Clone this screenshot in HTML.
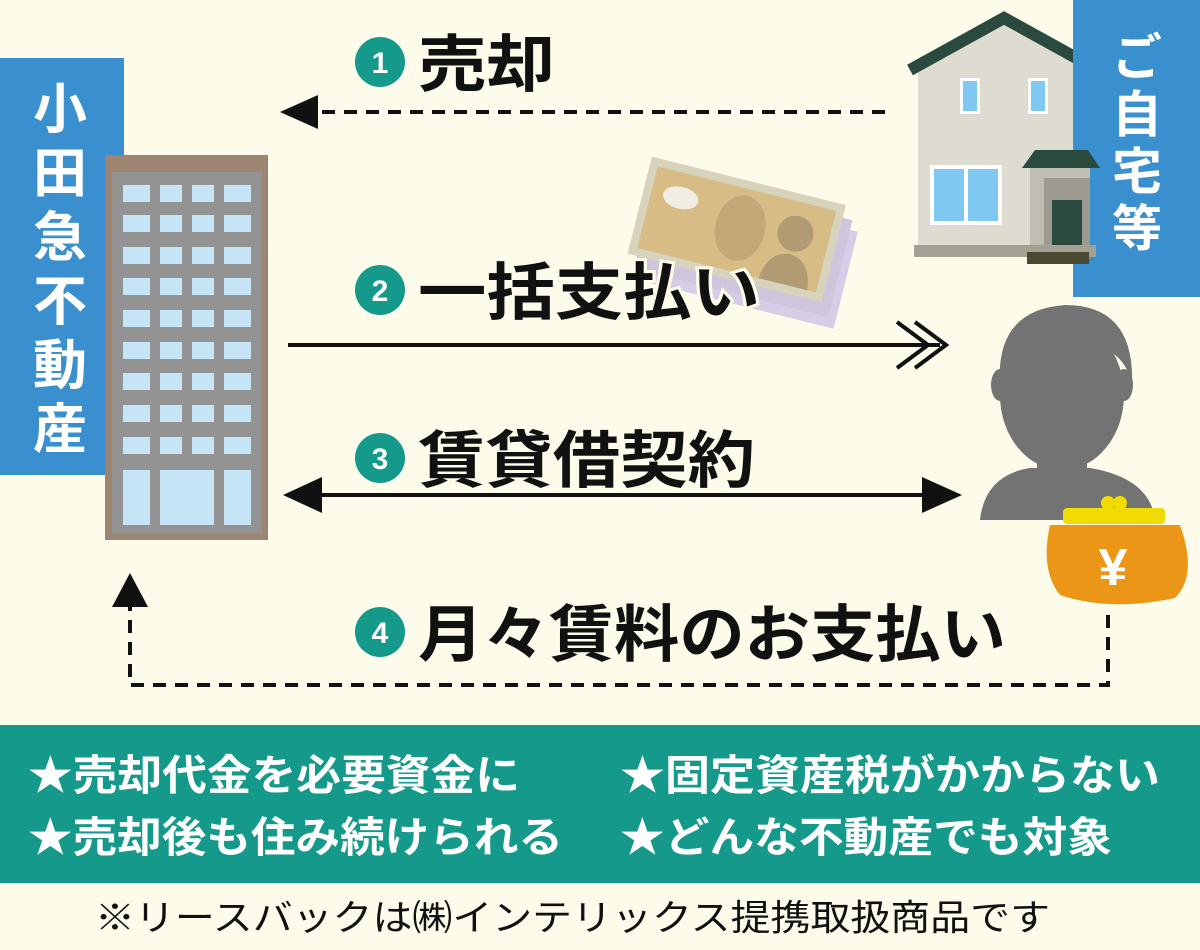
<!DOCTYPE html>
<html><head><meta charset="utf-8"><style>
html,body{margin:0;padding:0;background:#fdfbe9;}
svg{display:block;font-family:"Liberation Sans","Noto Sans CJK JP",sans-serif;}
</style></head><body>
<svg width="1200" height="950" viewBox="0 0 1200 950" xmlns="http://www.w3.org/2000/svg">
<defs>
<g id="row">
<rect x="123" y="0" width="27" height="17"/><rect x="160" y="0" width="22" height="17"/><rect x="192" y="0" width="22" height="17"/><rect x="224" y="0" width="27" height="17"/>
</g>
</defs>
<rect width="1200" height="950" fill="#fdfbe9"/>
<!-- left blue box -->
<rect x="0" y="58" width="124" height="417" fill="#3a8fcf"/>
<g fill="#fff" font-size="54" font-weight="bold" text-anchor="middle">
<text x="60" y="128">小</text><text x="60" y="192">田</text><text x="60" y="256">急</text>
<text x="60" y="320">不</text><text x="60" y="384">動</text><text x="60" y="448">産</text>
</g>
<!-- building -->
<rect x="105" y="155" width="163" height="385" fill="#9c8571"/>
<rect x="112" y="172" width="150" height="362" fill="#939393"/>
<g fill="#c5e4f5">
<use href="#row" y="185"/><use href="#row" y="215"/><use href="#row" y="247"/><use href="#row" y="278"/>
<use href="#row" y="310"/><use href="#row" y="342"/><use href="#row" y="373"/><use href="#row" y="405"/><use href="#row" y="437"/>
<rect x="123" y="470" width="27" height="55"/><rect x="160" y="470" width="54" height="55"/><rect x="224" y="470" width="27" height="55"/>
</g>
<!-- house -->
<polygon points="918,68 1004,22 1090,68 1090,250 918,250" fill="#dedbd0"/>
<polyline points="910,70 1004,18 1098,70" fill="none" stroke="#2b4a3f" stroke-width="12"/>
<!-- right blue box -->
<rect x="1073" y="0" width="127" height="297" fill="#3a8fcf"/>
<g fill="#fff" font-size="50" font-weight="bold" text-anchor="middle">
<text x="1137" y="75">ご</text><text x="1137" y="132">自</text><text x="1137" y="189">宅</text><text x="1137" y="246">等</text>
</g>
<rect x="960" y="78" width="20" height="36" fill="#fff"/><rect x="963" y="81" width="14" height="30" fill="#7ec8f2"/>
<rect x="1028" y="78" width="20" height="36" fill="#fff"/><rect x="1031" y="81" width="14" height="30" fill="#7ec8f2"/>
<rect x="930" y="165" width="72" height="60" fill="#fff"/><rect x="934" y="169" width="30" height="52" fill="#7ec8f2"/><rect x="968" y="169" width="30" height="52" fill="#7ec8f2"/>
<rect x="1030" y="168" width="60" height="85" fill="#c0bdb2"/>
<rect x="1044" y="178" width="46" height="75" fill="#9d9a90"/>
<rect x="1052" y="200" width="30" height="53" fill="#2b4a3f"/>
<polygon points="1022,168 1035,150 1088,150 1100,168" fill="#2b4a3f"/>
<rect x="914" y="245" width="182" height="12" fill="#a3a194"/>
<rect x="1027" y="252" width="62" height="12" fill="#4a4a32"/>
<!-- money -->
<g transform="rotate(14 745 250)">
<rect x="650" y="205" width="200" height="100" fill="#d6cde6"/>
<rect x="642" y="195" width="200" height="100" fill="#cfc5dd"/>
<rect x="632" y="182" width="200" height="100" fill="#d8d3bd"/>
<rect x="640" y="190" width="184" height="84" fill="#d8bc86"/>
<ellipse cx="670" cy="215" rx="18" ry="11" fill="#f2ede2"/>
<ellipse cx="735" cy="230" rx="25" ry="33" fill="#c5a878"/>
<circle cx="790" cy="222" r="18" fill="#b19b72"/>
<path d="M765 274 Q768 245 790 243 Q812 245 815 274Z" fill="#b19b72"/>
</g>
<!-- person -->
<g fill="#737373">
<ellipse cx="1062" cy="395" rx="62" ry="75"/>
<path d="M1000 385 Q995 310 1065 305 Q1135 305 1132 385 Q1125 350 1090 345 Q1040 345 1000 385Z"/>
<rect x="1037" y="440" width="50" height="40"/>
<path d="M980 520 Q985 475 1030 468 L1090 468 Q1150 478 1155 520Z"/>
<ellipse cx="1000" cy="385" rx="9" ry="16"/><ellipse cx="1124" cy="385" rx="9" ry="16"/>
</g>
<!-- purse -->
<path d="M1050 525 Q1040 570 1060 595 Q1110 612 1175 598 Q1198 575 1180 525Z" fill="#ec9618"/>
<rect x="1063" y="508" width="102" height="16" rx="4" fill="#f0dc00"/>
<circle cx="1108" cy="503" r="7" fill="#f0dc00"/><circle cx="1120" cy="503" r="7" fill="#f0dc00"/>
<text x="1113" y="585" fill="#fff" font-size="52" font-weight="bold" text-anchor="middle">¥</text>
<!-- arrow 1 -->
<line x1="885" y1="112" x2="315" y2="112" stroke="#111" stroke-width="4" stroke-dasharray="13,9"/>
<polygon points="280,112 318,95 318,129" fill="#111"/>
<!-- arrow 2 -->
<line x1="288" y1="345" x2="940" y2="345" stroke="#111" stroke-width="4"/>
<polyline points="897,322 928,345 897,368" fill="none" stroke="#111" stroke-width="4"/>
<polyline points="915,322 946,345 915,368" fill="none" stroke="#111" stroke-width="4"/>
<!-- arrow 3 -->
<line x1="310" y1="495" x2="930" y2="495" stroke="#111" stroke-width="4"/>
<polygon points="283,495 322,477 322,513" fill="#111"/>
<polygon points="962,495 922,477 922,513" fill="#111"/>
<!-- arrow 4 -->
<polyline points="1108,615 1108,685 130,685 130,605" fill="none" stroke="#111" stroke-width="4" stroke-dasharray="13,9"/>
<polygon points="130,573 112,607 148,607" fill="#111"/>
<!-- labels -->
<g font-weight="bold" font-size="30" text-anchor="middle" fill="#fff">
<circle cx="380" cy="62" r="25" fill="#14998a"/><text x="380" y="73">1</text>
<circle cx="380" cy="290" r="25" fill="#14998a"/><text x="380" y="301">2</text>
<circle cx="380" cy="458" r="25" fill="#14998a"/><text x="380" y="469">3</text>
<circle cx="380" cy="632" r="25" fill="#14998a"/><text x="380" y="643">4</text>
</g>
<g font-weight="bold" font-size="62" fill="#111" stroke="#fdfbe9" stroke-width="6" paint-order="stroke">
<text x="418" y="86" textLength="137" lengthAdjust="spacingAndGlyphs">売却</text>
<text x="418" y="314" textLength="342" lengthAdjust="spacingAndGlyphs">一括支払い</text>
<text x="418" y="482" textLength="337" lengthAdjust="spacingAndGlyphs">賃貸借契約</text>
<text x="418" y="656" textLength="588" lengthAdjust="spacingAndGlyphs">月々賃料のお支払い</text>
</g>
<!-- teal box -->
<rect x="0" y="725" width="1200" height="158" fill="#14998a"/>
<g fill="#fff" font-weight="bold" font-size="42">
<text x="28" y="790" textLength="492" lengthAdjust="spacingAndGlyphs">★売却代金を必要資金に</text>
<text x="620" y="790" textLength="540" lengthAdjust="spacingAndGlyphs">★固定資産税がかからない</text>
<text x="28" y="852" textLength="535" lengthAdjust="spacingAndGlyphs">★売却後も住み続けられる</text>
<text x="620" y="852" textLength="492" lengthAdjust="spacingAndGlyphs">★どんな不動産でも対象</text>
</g>
<text x="95" y="930" fill="#111" font-size="36" textLength="955" lengthAdjust="spacingAndGlyphs">※リースバックは㈱インテリックス提携取扱商品です</text>
</svg>
</body></html>
